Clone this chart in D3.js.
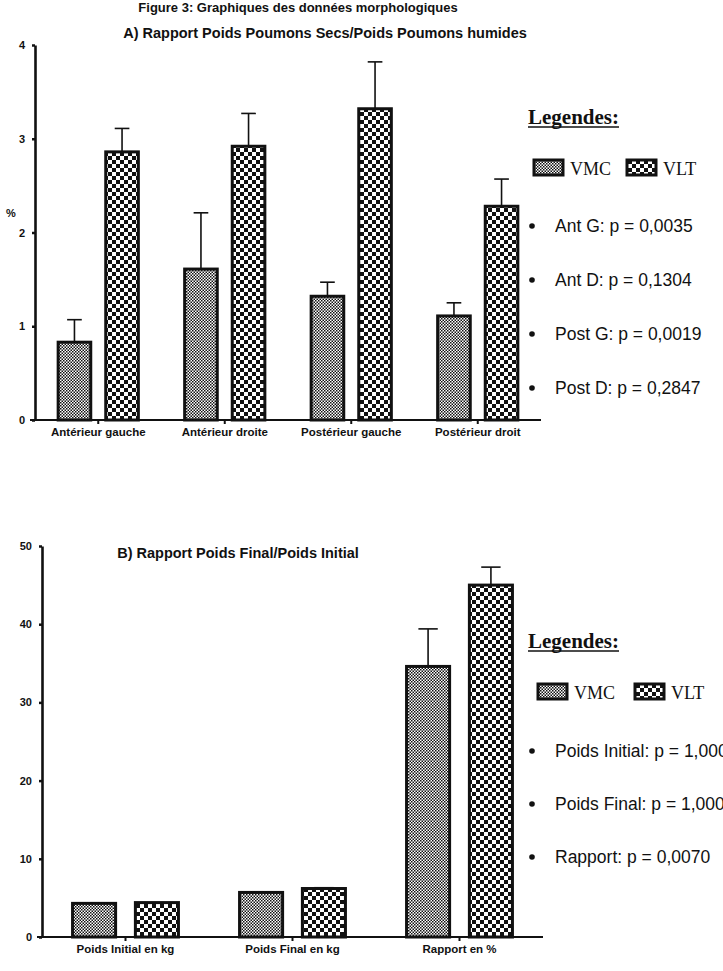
<!DOCTYPE html>
<html>
<head>
<meta charset="utf-8">
<script src="https://cdn.jsdelivr.net/npm/d3@7"></script>
<style>
  body { margin: 0; background: #fff; }
  svg { display: block; }
</style>
</head>
<body>
<div id="chart"></div>
<script>
// ---- data ----
const series = ["VMC", "VLT"];

const catsA = ["Antérieur gauche", "Antérieur droite", "Postérieur gauche", "Postérieur droit"];
const vmcA = [0.83, 1.61, 1.32, 1.11];
const vmcAErr = [0.24, 0.60, 0.15, 0.14];
const vltA = [2.86, 2.92, 3.32, 2.28];
const vltAErr = [0.25, 0.35, 0.50, 0.29];
const ticksA = [0, 1, 2, 3, 4];
const legendA = ["Ant G: p = 0,0035", "Ant D: p = 0,1304", "Post G: p = 0,0019", "Post D: p = 0,2847"];

const catsB = ["Poids Initial en kg", "Poids Final en kg", "Rapport en %"];
const vmcB = [4.3, 5.7, 34.6];
const vmcBErr = [0, 0, 4.8];
const vltB = [4.4, 6.2, 45.0];
const vltBErr = [0, 0.1, 2.3];
const ticksB = [0, 10, 20, 30, 40, 50];
const legendB = ["Poids Initial: p = 1,0000", "Poids Final: p = 1,0000", "Rapport: p = 0,0070"];

const width = 723;
const height = 971;
const sans = "'Liberation Sans', Arial, sans-serif";
const serif = "'Liberation Serif', 'Times New Roman', serif";

const svg = d3.select("#chart")
    .append("svg")
    .attr("width", width)
    .attr("height", height);

svg.append("rect").attr("width", width).attr("height", height).attr("fill", "#fff");

// checker patterns
const defs = svg.append("defs");
function checker(id, s) {
    const p = defs.append("pattern")
        .attr("id", id)
        .attr("patternUnits", "userSpaceOnUse")
        .attr("width", s * 2)
        .attr("height", s * 2);
    p.append("rect").attr("width", s * 2).attr("height", s * 2).attr("fill", "#fff");
    p.append("rect").attr("width", s).attr("height", s).attr("fill", "#111");
    p.append("rect").attr("x", s).attr("y", s).attr("width", s).attr("height", s).attr("fill", "#111");
}
checker("fine", 1.5);
checker("coarse", 4);
const fills = { VMC: "url(#fine)", VLT: "url(#coarse)" };

// figure title (top edge)
svg.append("text")
    .attr("x", 298)
    .attr("y", 12)
    .attr("text-anchor", "middle")
    .attr("font-family", sans)
    .attr("font-weight", "bold")
    .attr("font-size", "13px")
    .attr("fill", "#111")
    .text("Figure 3: Graphiques des données morphologiques");

function drawPanel(cfg) {
    const y = d3.scaleLinear().domain(cfg.yDomain).range([cfg.y0, cfg.y1]);
    const x0 = d3.scaleBand().domain(cfg.cats).range([cfg.xLeft, cfg.xRight]).padding(0);
    const bw = x0.bandwidth();
    const x1 = d3.scaleBand().domain(series)
        .range([bw * 0.183, bw * 0.817])
        .paddingInner(0.315)
        .paddingOuter(0);

    const rows = cfg.cats.map((c, i) => [
        { cat: c, s: "VMC", v: cfg.vmc[i], e: cfg.vmcErr[i] },
        { cat: c, s: "VLT", v: cfg.vlt[i], e: cfg.vltErr[i] }
    ]).flat();

    const g = svg.append("g");

    // error bars (behind bars)
    const cap = x1.bandwidth() * 0.45;
    rows.filter(d => d.e > 0).forEach(d => {
        const cx = x0(d.cat) + x1(d.s) + x1.bandwidth() / 2;
        g.append("line")
            .attr("x1", cx).attr("x2", cx)
            .attr("y1", y(d.v)).attr("y2", y(d.v + d.e))
            .attr("stroke", "#111").attr("stroke-width", 1.6);
        g.append("line")
            .attr("x1", cx - cap / 2).attr("x2", cx + cap / 2)
            .attr("y1", y(d.v + d.e)).attr("y2", y(d.v + d.e))
            .attr("stroke", "#111").attr("stroke-width", 1.6);
    });

    // bars
    g.selectAll(".bar")
        .data(rows)
        .join("rect")
        .attr("x", d => x0(d.cat) + x1(d.s))
        .attr("y", d => y(d.v))
        .attr("width", x1.bandwidth())
        .attr("height", d => y(0) - y(d.v))
        .attr("fill", d => fills[d.s])
        .attr("stroke", "#111")
        .attr("stroke-width", 3);

    // x axis
    const xAxis = d3.axisBottom(x0).tickSize(4).tickSizeOuter(0).tickPadding(4);
    const gx = svg.append("g")
        .attr("transform", `translate(0,${cfg.y0})`)
        .call(xAxis);
    gx.select(".domain").remove();
    gx.append("line")
        .attr("x1", cfg.xLeft - 5).attr("x2", cfg.xRight)
        .attr("stroke", "#111").attr("stroke-width", 2.2);
    gx.selectAll(".tick line").attr("stroke", "#111").attr("stroke-width", 2);
    gx.selectAll("text")
        .attr("fill", "#111")
        .attr("font-family", sans)
        .attr("font-weight", "bold")
        .attr("font-size", "11.5px");

    // y axis
    const yAxis = d3.axisLeft(y).tickValues(cfg.ticks).tickFormat(d3.format("d"))
        .tickSize(3).tickSizeOuter(0).tickPadding(7);
    const gy = svg.append("g")
        .attr("transform", `translate(${cfg.xLeft},0)`)
        .call(yAxis);
    gy.select(".domain").attr("stroke", "#111").attr("stroke-width", 2.6);
    gy.selectAll(".tick line").attr("stroke", "#111").attr("stroke-width", 2.5);
    gy.selectAll("text")
        .attr("fill", "#111")
        .attr("font-family", sans)
        .attr("font-weight", "bold")
        .attr("font-size", "11px");

    // title
    svg.append("text")
        .attr("x", cfg.titleX)
        .attr("y", cfg.titleY)
        .attr("text-anchor", "middle")
        .attr("font-family", sans)
        .attr("font-weight", "bold")
        .attr("font-size", "14.5px")
        .attr("fill", "#111")
        .text(cfg.title);

    // legend
    const lx = 528;
    const lg = svg.append("g").attr("transform", `translate(${lx},${cfg.legY})`);
    const head = lg.append("text")
        .attr("x", 0).attr("y", 0)
        .attr("font-family", serif)
        .attr("font-weight", "bold")
        .attr("font-size", "21px")
        .attr("fill", "#111")
        .text("Legendes:");
    const hw = head.node().getComputedTextLength();
    lg.append("line")
        .attr("x1", 0).attr("x2", hw)
        .attr("y1", 3).attr("y2", 3)
        .attr("stroke", "#111").attr("stroke-width", 1.5);

    series.forEach((s, i) => {
        const sx = cfg.swX[i] - lx;
        lg.append("rect")
            .attr("x", sx).attr("y", cfg.swY - cfg.legY)
            .attr("width", 29).attr("height", 15)
            .attr("fill", s === "VMC" ? "url(#fine)" : "url(#coarse)")
            .attr("stroke", "#111").attr("stroke-width", 3);
        lg.append("text")
            .attr("x", sx + 36).attr("y", cfg.swY - cfg.legY + 15)
            .attr("font-family", serif)
            .attr("font-size", "18px")
            .attr("fill", "#111")
            .text(s);
    });

    cfg.legend.forEach((t, i) => {
        const ty = cfg.bulY0 - cfg.legY + i * cfg.bulStep;
        lg.append("circle")
            .attr("cx", 4).attr("cy", ty - 6)
            .attr("r", 2.8).attr("fill", "#111");
        lg.append("text")
            .attr("x", 27).attr("y", ty)
            .attr("font-family", sans)
            .attr("font-size", "17.5px")
            .attr("fill", "#111")
            .text(t);
    });
}

drawPanel({
    cats: catsA, vmc: vmcA, vmcErr: vmcAErr, vlt: vltA, vltErr: vltAErr,
    yDomain: [0, 4], ticks: ticksA,
    y0: 420, y1: 45, xLeft: 35, xRight: 541,
    title: "A) Rapport Poids Poumons Secs/Poids Poumons humides", titleX: 325, titleY: 38,
    legend: legendA, legY: 124, swX: [534, 627], swY: 160, bulY0: 232, bulStep: 54
});

drawPanel({
    cats: catsB, vmc: vmcB, vmcErr: vmcBErr, vlt: vltB, vltErr: vltBErr,
    yDomain: [0, 50], ticks: ticksB,
    y0: 937, y1: 546, xLeft: 42, xRight: 543,
    title: "B) Rapport Poids Final/Poids Initial", titleX: 238, titleY: 558,
    legend: legendB, legY: 648, swX: [538, 635], swY: 684, bulY0: 757, bulStep: 53
});

// "%" y label for panel A
svg.append("text")
    .attr("x", 11)
    .attr("y", 217)
    .attr("text-anchor", "middle")
    .attr("font-family", sans)
    .attr("font-weight", "bold")
    .attr("font-size", "11px")
    .attr("fill", "#111")
    .text("%");
</script>
</body>
</html>
